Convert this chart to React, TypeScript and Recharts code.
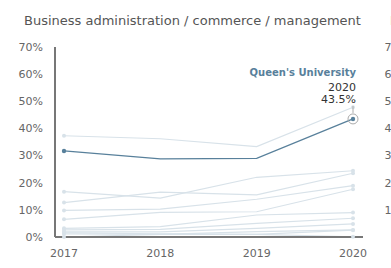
import { LineChart, Line, XAxis, YAxis } from 'recharts'

const years = ['2017', '2018', '2019', '2020']
const yTicks = [0, 0.1, 0.2, 0.3, 0.4, 0.5, 0.6, 0.7]

// highlighted school
const queens = [0.317, 0.288, 0.29, 0.435]

// other schools, faint background lines
const others = [
  [0.373, 0.362, 0.333, 0.478],
  [0.167, 0.143, 0.22, 0.244],
  [0.127, 0.165, 0.155, 0.235],
  [0.098, 0.103, 0.139, 0.189],
  [0.065, 0.091, 0.093, 0.176],
  [0.032, 0.038, 0.081, 0.09],
  [0.026, 0.028, 0.05, 0.069],
  [0.019, 0.019, 0.032, 0.048],
  [0.011, 0.01, 0.02, 0.026],
  [0.015, 0.012, 0.01, 0.025],
  [0.0, 0.01, 0.01, 0.001],
]

const data = years.map((year, i) => {
  const row: Record<string, number | string> = { year, queens: queens[i] }
  others.forEach((s, j) => { row['s' + j] = s[i] })
  return row
})

const FONT = '"DejaVu Sans", sans-serif'
const FAINT = '#d8e2e9'
const DARK = '#58809b'

const pct = (v: number) => `${Math.round(v * 100)}%`

const endDot = (color: string) => (p: any) => {
  const { cx, cy, index } = p
  if (index !== 0 && index !== years.length - 1) return <g key={`d${index}`} />
  return <circle key={`d${index}`} cx={cx} cy={cy} r={2} fill={color} />
}

const queensDot = (p: any) => {
  const { cx, cy, index } = p
  if (index === 0) return <circle key="q0" cx={cx} cy={cy} r={2.2} fill={DARK} />
  if (index !== years.length - 1) return <g key={`q${index}`} />
  return (
    <g key="qlast">
      <circle cx={cx} cy={cy} r={5} fill="none" stroke="#aaa" strokeWidth={1} />
      <circle cx={cx} cy={cy} r={2.2} fill={DARK} />
      <line x1={cx} x2={cx} y1={cy - 13} y2={cy - 6} stroke="#aaa" strokeWidth={1} />
      <text x={cx + 3} y={cy - 43} textAnchor="end" fontFamily={FONT} fontSize={10} fontWeight="bold" fill={DARK}>
        Queen's University
      </text>
      <text x={cx + 3} y={cy - 28} textAnchor="end" fontFamily={FONT} fontSize={11} fill="#333">
        {years[index]}
      </text>
      <text x={cx + 3} y={cy - 16} textAnchor="end" fontFamily={FONT} fontSize={11} fill="#333">
        {`${(queens[index] * 100).toFixed(1)}%`}
      </text>
    </g>
  )
}

function Panel({ title, showData, left }: { title: string; showData: boolean; left: number }) {
  return (
    <div style={{ position: 'absolute', left, top: 0, width: 391, height: 268 }}>
      <div
        style={{
          position: 'absolute',
          left: 24,
          top: 13,
          fontFamily: FONT,
          fontSize: 13,
          color: '#555',
          whiteSpace: 'nowrap',
        }}
      >
        {title}
      </div>
      <LineChart width={391} height={268} data={data} margin={{ top: 47, right: 28, bottom: 1, left: 0 }}>
        <XAxis
          dataKey="year"
          padding={{ left: 9, right: 10 }}
          tickLine={false}
          axisLine={{ stroke: '#777', strokeWidth: 2 }}
          tick={{ fontSize: 11, fill: '#666', fontFamily: FONT }}
          tickMargin={6}
          height={30}
        />
        <YAxis
          domain={[0, 0.7]}
          ticks={yTicks}
          tickFormatter={pct}
          tickLine={false}
          axisLine={{ stroke: '#777', strokeWidth: 2 }}
          tick={{ fontSize: 11, fill: '#666', fontFamily: FONT }}
          tickMargin={6}
          width={55}
        />
        {others.map((_, j) => (
          <Line
            key={j}
            dataKey={'s' + j}
            stroke={showData ? FAINT : 'none'}
            strokeWidth={1.2}
            dot={showData ? endDot(FAINT) : false}
            activeDot={false}
            isAnimationActive={false}
          />
        ))}
        {showData && (
          <Line
            dataKey="queens"
            stroke={DARK}
            strokeWidth={1.3}
            dot={queensDot}
            activeDot={false}
            isAnimationActive={false}
          />
        )}
      </LineChart>
    </div>
  )
}

export default function App() {
  return (
    <div style={{ position: 'absolute', left: 0, top: 0, width: 391, height: 268, overflow: 'hidden', background: '#fff' }}>
      <Panel title="Engineering" showData={false} left={366} />
      <Panel title="Business administration / commerce / management" showData left={0} />
    </div>
  )
}
